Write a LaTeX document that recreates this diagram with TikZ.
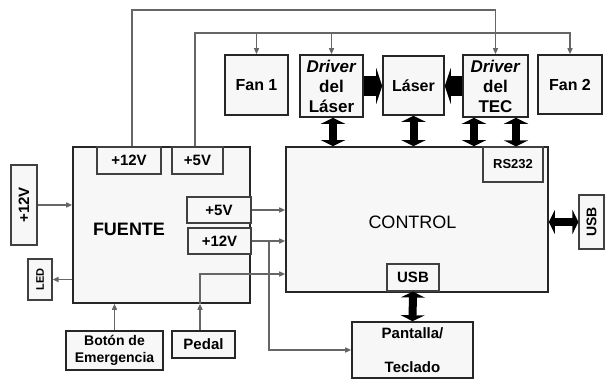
\documentclass[tikz,border=0pt]{standalone}
\usepackage{fontspec}
\usepackage{graphicx}
\setmainfont{Liberation Sans}
\usetikzlibrary{arrows.meta,calc}
\newcommand{\myfs}[2]{\fontsize{#1}{#2}\selectfont}
\begin{document}
\begin{tikzpicture}[x=1pt,y=-1pt,
  box/.style={draw=black!85, line width=1.6pt, fill=black!3, inner sep=0pt, align=center},
  sub/.style={draw=black!75, line width=1.1pt, fill=black!3, inner sep=0pt, align=center},
  wire/.style={draw=black!60, line width=1.4pt},
  tip/.style={-{Triangle[length=6pt,width=5pt]}},
  fatone/.style={draw=black, line width=20pt, -{Triangle[length=6pt,width=36pt]}},
  fattwo/.style={draw=black, line width=8pt, {Triangle[length=6pt,width=24pt]}-{Triangle[length=6pt,width=24pt]}}
]
\useasboundingbox (0,0) rectangle (605,379);
\fill[white] (0,0) rectangle (605,379);

% top row
\node[box, font=\bfseries\myfs{16}{19}, minimum width=63pt, minimum height=60pt] (Fan1) at (256.5,85) {Fan 1};
\node[box, font=\bfseries\myfs{17}{20}, minimum width=63pt, minimum height=62pt] (DrvL) at (331.5,86) {\textit{Driver}\\del\\Láser};
\node[box, font=\bfseries\myfs{16}{19}, minimum width=61pt, minimum height=59pt] (Laser) at (413.5,85.5) {Láser};
\node[box, font=\bfseries\myfs{17}{20}, minimum width=65pt, minimum height=62pt] (DrvT) at (495.5,86) {\textit{Driver}\\del\\TEC};
\node[box, font=\bfseries\myfs{16}{19}, minimum width=64pt, minimum height=59pt] (Fan2) at (570,84.5) {Fan 2};

% fuente
\node[box, minimum width=177pt, minimum height=156pt] (FUENTE) at (161.5,225) {};
\node[font=\bfseries\myfs{18}{21}] (FUENTEt) at (129,229) {FUENTE};
\node[sub, font=\bfseries\myfs{15}{18}, minimum width=64pt, minimum height=27pt] (F12) at (129,160.5) {+12V};
\node[sub, font=\bfseries\myfs{15}{18}, minimum width=51pt, minimum height=27pt] (F5) at (197.5,160.5) {+5V};
\node[sub, font=\bfseries\myfs{15}{18}, minimum width=64pt, minimum height=26pt] (Fo5) at (219,210) {+5V};
\node[sub, font=\bfseries\myfs{15}{18}, minimum width=63pt, minimum height=26pt] (Fo12) at (219.5,241) {+12V};

% left side
\node[sub, font=\bfseries\myfs{15}{18}, minimum width=26pt, minimum height=80pt] (In12) at (24,205) {\rotatebox{90}{+12V}};
\node[sub, font=\bfseries\myfs{11}{13}, minimum width=24pt, minimum height=41pt] (LED) at (40,279.5) {\rotatebox{90}{LED}};
\node[box, font=\bfseries\myfs{14}{17}, minimum width=97pt, minimum height=39pt] (Boton) at (114.5,350.5) {Botón de\\Emergencia};
\node[box, font=\bfseries\myfs{15}{18}, minimum width=63pt, minimum height=27pt] (Pedal) at (203.5,344.5) {Pedal};

% control
\node[box, minimum width=262pt, minimum height=145pt] (CONTROL) at (417,219.5) {};
\node[font=\myfs{18}{21}] (CONTROLt) at (412.5,222) {CONTROL};
\node[sub, font=\bfseries\myfs{13}{16}, minimum width=60pt, minimum height=35pt] (RS232) at (513,164.5) {RS232};
\node[sub, font=\bfseries\myfs{15}{18}, minimum width=52pt, minimum height=27pt] (USBc) at (413,277.5) {USB};
\node[sub, font=\bfseries\myfs{14}{16}, minimum width=25pt, minimum height=54pt] (USBr) at (591.5,222) {\rotatebox{90}{USB}};
\node[box, font=\bfseries\myfs{15}{34}, minimum width=121pt, minimum height=56pt] (Pant) at (412.5,350) {Pantalla/\\Teclado};

% power wires on top
\coordinate (t1) at (132,10);
\coordinate (t2) at (195,33);
\draw[wire,tip] (F12.north -| t1) -- (t1) -| (DrvT.north);
\draw[wire,tip] (F5.north -| t2) -- (t2) -| (Fan2.north);
\draw[wire,tip] (t2 -| Fan1.north) -- (Fan1.north);
\draw[wire,tip] (t2 -| DrvL.north) -- (DrvL.north);

% left wires
\draw[wire,tip] (In12.east) -- (In12.east -| FUENTE.west);
\draw[wire,tip] (LED.east -| FUENTE.west) -- (LED.east);
\draw[wire,tip] (Boton.north) -- (Boton.north |- FUENTE.south);
\coordinate (p1) at (200,274);
\draw[wire,tip] (p1 |- Pedal.north) -- (p1 |- FUENTE.south);
\draw[wire,tip] (p1 |- FUENTE.south) -- (p1) -- (p1 -| CONTROL.west);

% outputs to control
\draw[wire,tip] (Fo5.east) -- (Fo5.east -| CONTROL.west);
\draw[wire,tip] (Fo12.east) -- (Fo12.east -| CONTROL.west);
\coordinate (b1) at (269,0);
\draw[wire,tip] (Fo12.east -| b1) |- (Pant.west);

% fat arrows
\draw[fatone] (DrvL.east) -- (DrvL.east -| Laser.west);
\draw[fatone] (DrvT.west) -- (DrvT.west -| Laser.east);
\draw[fattwo] ([xshift=1.5pt]DrvL.south) -- ([xshift=1.5pt]DrvL.south |- CONTROL.north);
\draw[fattwo] (Laser.south) -- (Laser.south |- CONTROL.north);
\draw[fattwo] ([xshift=-21.5pt]DrvT.south) -- ([xshift=-21.5pt]DrvT.south |- CONTROL.north);
\draw[fattwo] ([xshift=20.5pt]DrvT.south) -- ([xshift=20.5pt]DrvT.south |- RS232.north);
\draw[fattwo] (USBc.south) -- (Pant.north);
\draw[fattwo] (USBr.west -| CONTROL.east) -- (USBr.west);
\end{tikzpicture}
\end{document}
